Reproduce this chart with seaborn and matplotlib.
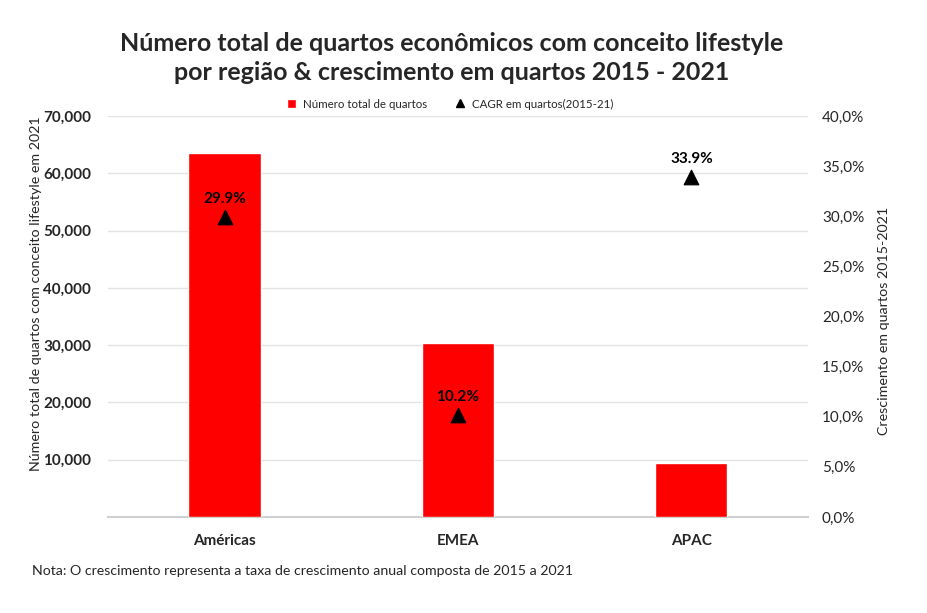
import matplotlib
matplotlib.use("Agg")
import matplotlib.pyplot as plt
import seaborn as sns
import pandas as pd
from matplotlib.ticker import FuncFormatter
from matplotlib.lines import Line2D
from matplotlib.patches import Patch

regions = ["Américas", "EMEA", "APAC"]
rooms = [63600, 30400, 9400]
cagr = [29.9, 10.2, 33.9]
cagr_labels = ["29.9%", "10.2%", "33.9%"]

sns.set_theme(style="white")
plt.rcParams['font.family'] = ['Lato', 'DejaVu Sans']

df = pd.DataFrame({"region": regions, "rooms": rooms, "cagr": cagr})

fig = plt.figure(figsize=(9.28, 6.13), dpi=100)
ax = fig.add_axes([108 / 928, 1 - 517 / 613, 700 / 928, 401 / 613])

sns.barplot(data=df, x="region", y="rooms", color="#ff0000", width=0.31,
            saturation=1, ax=ax, zorder=3)
ax.set_ylim(0, 70000)
ax.set_xlim(-0.5, 2.5)
ax.set_yticks(range(10000, 70001, 10000))
ax.yaxis.set_major_formatter(FuncFormatter(lambda v, p: f"{int(v):,}"))
ax.grid(axis="y", color="#e3e3e3", linewidth=1, zorder=0)
for s in ["top", "left", "right"]:
    ax.spines[s].set_visible(False)
ax.spines["bottom"].set_color("#d0d0d0")
ax.spines["bottom"].set_linewidth(1.5)
ax.tick_params(axis="both", length=0, labelsize=11, pad=12)
for t in ax.get_yticklabels() + ax.get_xticklabels():
    t.set_fontweight("bold")
ax.set_xlabel("")
ax.set_ylabel("Número total de quartos com conceito lifestyle em 2021", fontsize=10.3)
ax.yaxis.set_label_coords(-0.094, 0.556)

ax2 = ax.twinx()
ax2.set_ylim(0, 40)
ax2.set_yticks(range(0, 41, 5))
ax2.yaxis.set_major_formatter(FuncFormatter(lambda v, p: f"{v:.1f}%".replace(".", ",")))
sns.scatterplot(x=[0, 1, 2], y=cagr, marker="^", s=110, color="black",
                edgecolor="black", ax=ax2, zorder=5)
for i, (v, lab) in enumerate(zip(cagr, cagr_labels)):
    ax2.text(i, v + 1.1, lab, ha="center", va="bottom", fontsize=11,
             fontweight="bold", color="black")
for s in ["top", "left", "right", "bottom"]:
    ax2.spines[s].set_visible(False)
ax2.tick_params(axis="y", length=0, labelsize=11, pad=10)
ax2.set_ylabel("Crescimento em quartos 2015-2021", fontsize=10.3, rotation=90)
ax2.yaxis.set_label_coords(1.1, 0.49)
ax2.grid(False)

handles = [Patch(facecolor="#ff0000", label="Número total de quartos"),
           Line2D([], [], marker="^", color="black", linestyle="none", markersize=6,
                  label="CAGR em quartos(2015-21)")]
fig.legend(handles=handles, loc="center", bbox_to_anchor=(450 / 928, 1 - 104 / 613),
           ncol=2, frameon=False, fontsize=8.3, handlelength=0.8, columnspacing=2.5,
           handletextpad=0.6)

fig.text(452 / 928, 1 - 58 / 613,
         "Número total de quartos econômicos com conceito lifestyle\npor região & crescimento em quartos 2015 - 2021",
         ha="center", va="center", fontsize=18, fontweight="bold", linespacing=1.3)
fig.text(32 / 928, 1 - 571 / 613,
         "Nota: O crescimento representa a taxa de crescimento anual composta de 2015 a 2021",
         ha="left", va="center", fontsize=10.2)

fig.savefig("out.png", dpi=100)
